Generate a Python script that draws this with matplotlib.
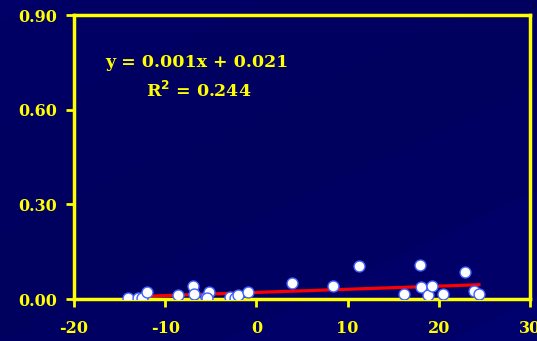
import matplotlib.pyplot as plt
import numpy as np

x = [-14.1, -13.0, -12.6, -12.0, -8.6, -7.0, -6.8, -5.5, -5.2, -5.4, -2.9, -2.3, -2.0, -0.9,
     3.9, 8.4, 11.2, 16.2, 17.9, 18.0, 18.8, 19.2, 20.5, 22.9, 23.9, 24.4]
y = [0.004, 0.004, 0.004, 0.022, 0.013, 0.041, 0.016, 0.006, 0.022, 0.002, 0.006, 0.004, 0.013, 0.022,
     0.051, 0.041, 0.105, 0.016, 0.108, 0.038, 0.013, 0.041, 0.016, 0.087, 0.026, 0.016]
slope, intercept = 0.001, 0.021
xticks = [-20, -10, 0, 10, 20, 30]
yticks = [0.0, 0.3, 0.6, 0.9]

plt.rcParams['axes.unicode_minus'] = False
yellow = '#ffff00'
font = 'DejaVu Serif'

fig = plt.figure(figsize=(5.37, 3.41), dpi=100)
fig.patch.set_facecolor('#000062')

# faint diagonal banding in the background
bg = fig.add_axes([0, 0, 1, 1], zorder=-1)
gx, gy = np.meshgrid(np.linspace(0, 1, 300), np.linspace(0, 1, 200))
bands = np.floor((gx * 0.6 - gy * 0.8) * 4) / 4
cmap = plt.matplotlib.colors.LinearSegmentedColormap.from_list('bg', ['#000068', '#00005e', '#00006e'])
bg.imshow(bands, cmap=cmap, aspect='auto', extent=[0, 1, 0, 1], origin='lower')
bg.axis('off')

ax = fig.add_axes([0.138, 0.123, 0.849, 0.833])
ax.set_facecolor('none')
ax.set_xlim(-20, 30)
ax.set_ylim(0, 0.9)

xl = np.array([min(x), max(x)])
ax.plot(xl, slope * xl + intercept, color='#ff0000', lw=2.3, zorder=2)
ax.scatter(x, y, s=62, facecolor='white', edgecolor='#4060ff', linewidth=1.0, zorder=3)

for s in ax.spines.values():
    s.set_color(yellow)
    s.set_linewidth(2.5)
ax.set_xticks(xticks)
ax.set_yticks(yticks)
ax.set_yticklabels([f'{v:.2f}' for v in yticks])
ax.tick_params(colors=yellow, width=2, length=6, labelsize=11.5)
ax.tick_params(axis='x', pad=9)
ax.tick_params(axis='y', pad=6)
for lab in ax.get_xticklabels() + ax.get_yticklabels():
    lab.set_fontfamily(font)
    lab.set_fontweight('bold')
    lab.set_color(yellow)

ax.text(-16.6, 0.748, 'y = 0.001x + 0.021', color=yellow, fontsize=12.5, fontweight='bold',
        family=font, va='center')
ax.text(-12.1, 0.66, r'R$^{\mathbf{2}}$ = 0.244', color=yellow, fontsize=12.5, fontweight='bold',
        family=font, va='center')

fig.savefig('out.png', dpi=100, facecolor=fig.get_facecolor())
